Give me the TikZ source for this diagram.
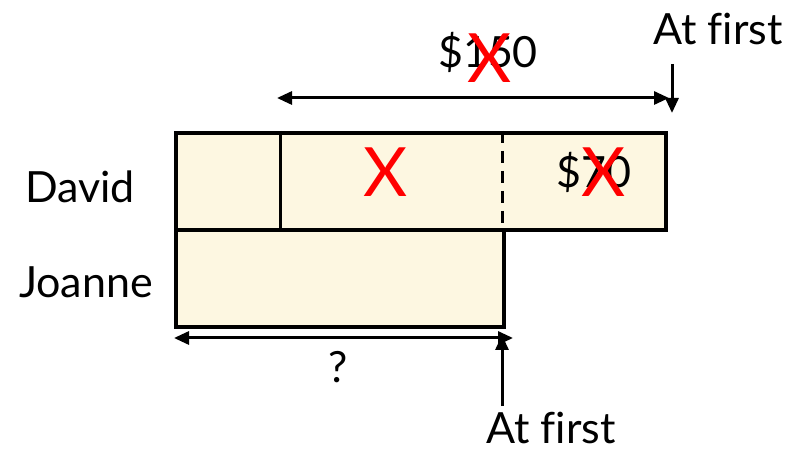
\documentclass[tikz,border=0pt]{standalone}
\usepackage{fontspec}
\setmainfont{Lato}[Ligatures=NoCommon]
\usetikzlibrary{arrows.meta}
\definecolor{cream}{HTML}{FDF7E1}
\begin{document}
\begin{tikzpicture}[x=1pt,y=-1pt,
  bar/.style={draw, line width=4pt, fill=cream, inner sep=0pt, anchor=north west},
  lbl/.style={font=\fontsize{43}{46}\selectfont, inner sep=0pt, anchor=base},
  cross/.style={text=red, font=\fontsize{68}{72}\selectfont, inner sep=0pt, anchor=base},
  divider/.style={line width=3pt},
  dim/.style={line width=3pt, {Triangle[length=15pt,width=13pt]}-{Triangle[length=15pt,width=13pt]}},
  ptr/.style={line width=3pt, -{Triangle[length=15pt,width=13pt]}}]
\useasboundingbox (0,0) rectangle (788,449);
\node[bar, minimum width=490pt, minimum height=97pt] (david) at (174,131) {};
\node[bar, minimum width=328pt, minimum height=97pt] (joanne) at (174,228) {};
% dividers
\coordinate (s1) at (280,131); \coordinate (s2) at (280,228);
\coordinate (d1) at (502,131); \coordinate (d2) at (502,228);
\draw[divider] (s1) -- (s2);
\draw[divider, dash pattern=on 12pt off 8pt] (d1) -- (d2);
% labels
\node[lbl] (dl) at (80,203) {David};
\node[lbl] (jl) at (86,298) {Joanne};
\node[lbl] (total) at (488,68) {\$150};
\node[cross] (x1) at (490,83) {X};
\node[cross] (x2) at (386,197) {X};
\node[lbl] (seventy) at (594,188) {\$70};
\node[cross] (x3) at (604,197) {X};
\node[lbl] (q) at (338,382) {?};
\node[lbl] (af1) at (718,45) {At first};
\node[lbl] (af2) at (551,443) {At first};
% arrows
\coordinate (ta) at (277,98); \coordinate (tb) at (669,98);
\draw[dim] (ta) -- (tb);
\coordinate (pa) at (672,64); \coordinate (pb) at (672,113);
\draw[ptr] (pa) -- (pb);
\coordinate (ba) at (174,338); \coordinate (bb) at (513,338);
\draw[dim] (ba) -- (bb);
\coordinate (ua) at (502,406); \coordinate (ub) at (502,335);
\draw[ptr] (ua) -- (ub);
\end{tikzpicture}
\end{document}
